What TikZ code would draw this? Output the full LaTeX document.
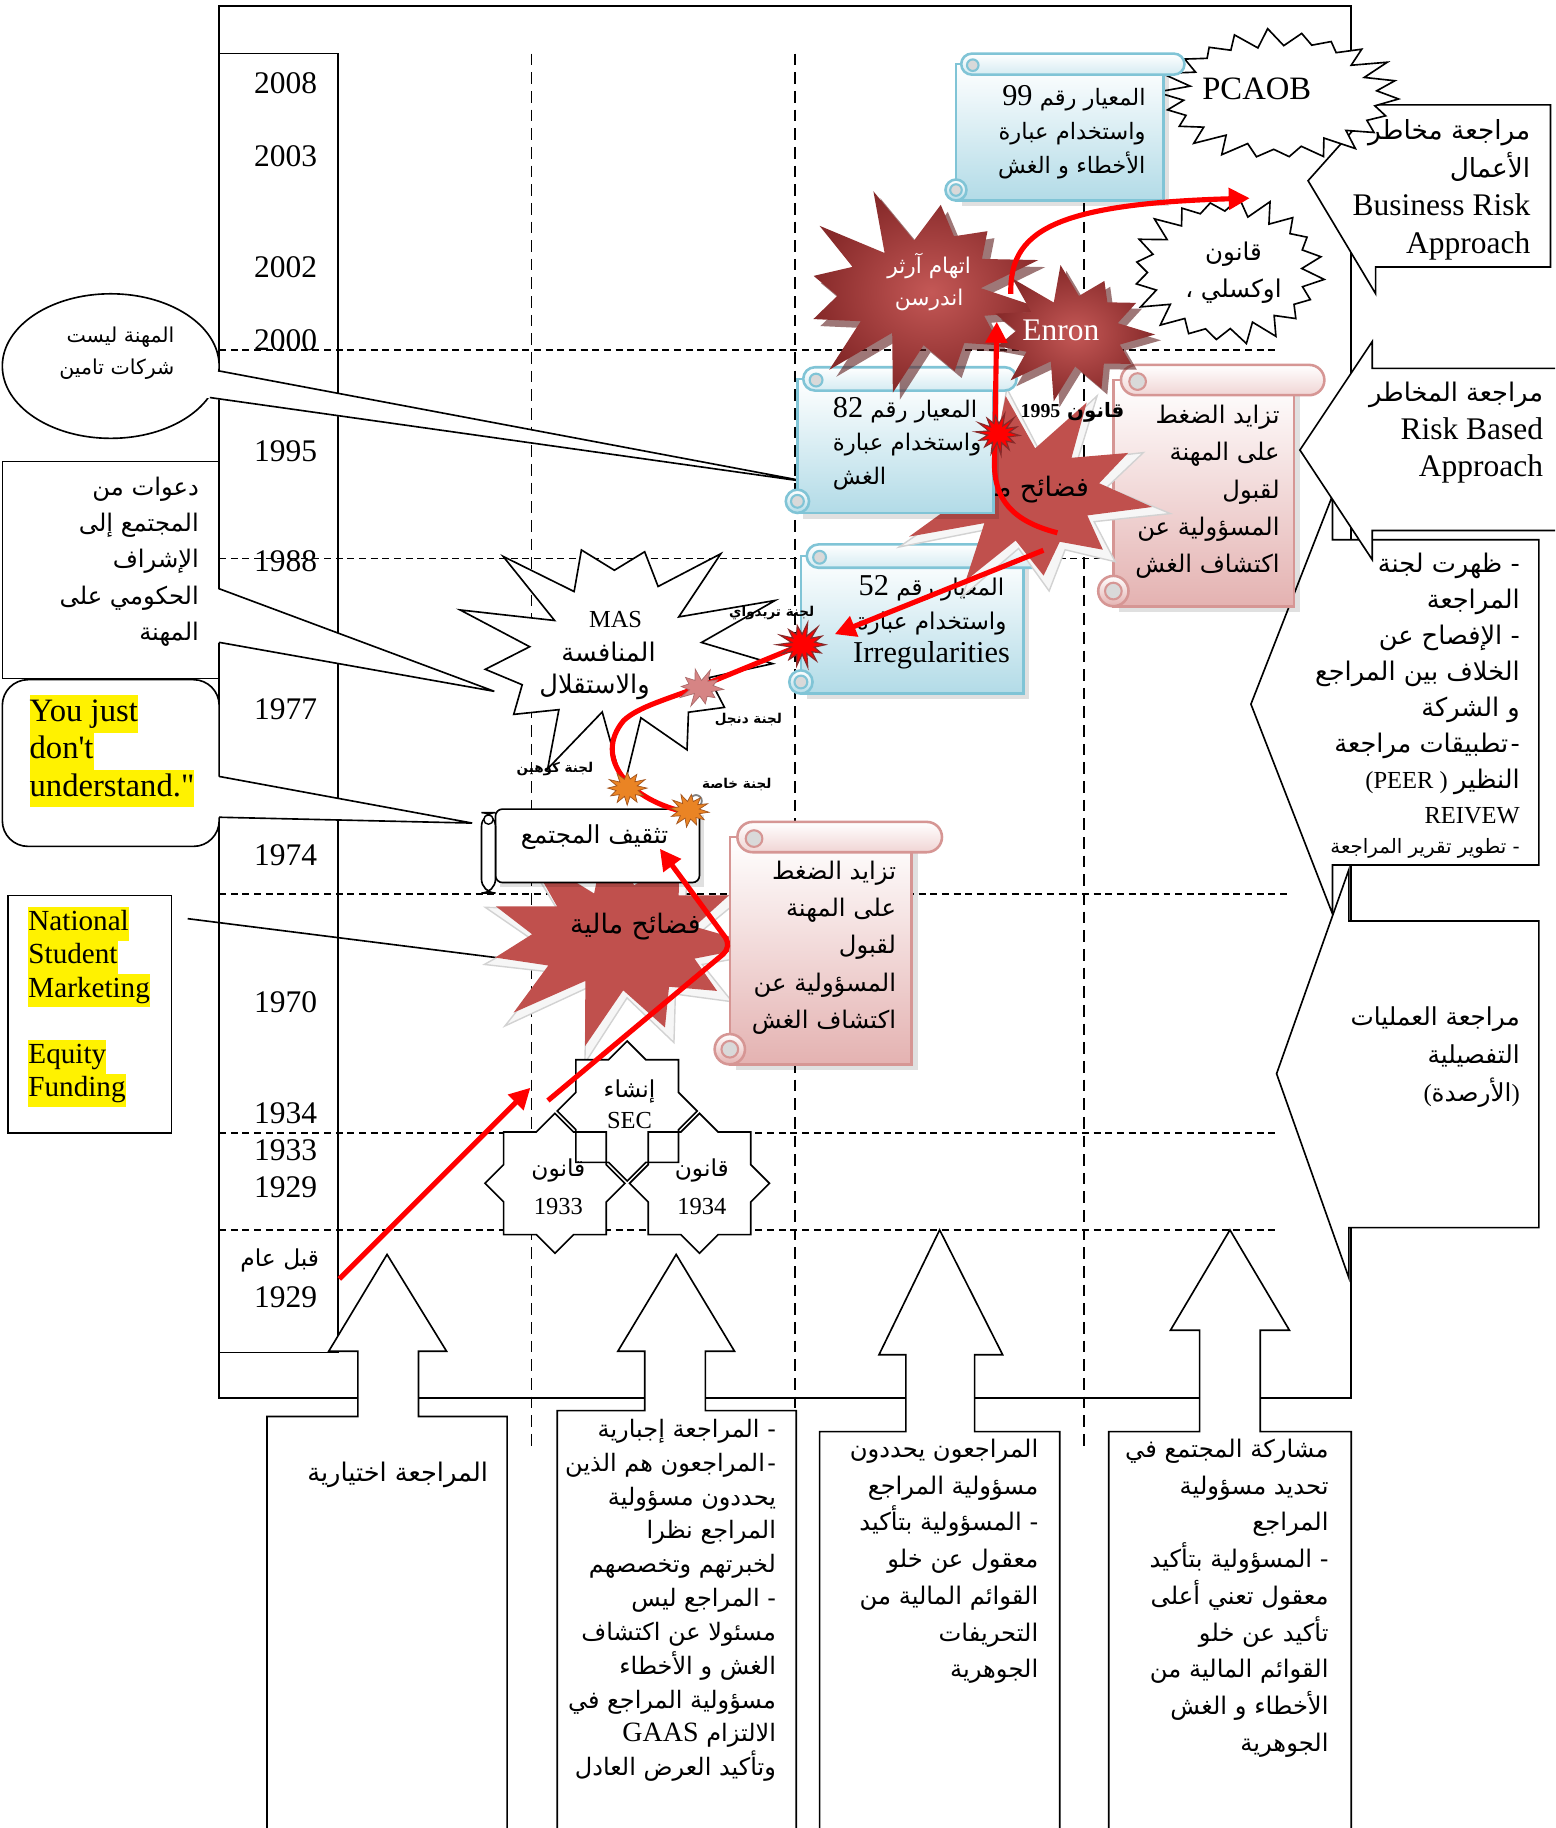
\documentclass[tikz,border=0pt]{standalone}
\usepackage{fontspec}
\setmainfont{Liberation Serif}
\newfontfamily\arabicfont[Script=Arabic]{DejaVu Sans}
\newfontfamily\latfont{Liberation Serif}
\TeXXeTstate=1
\usetikzlibrary{arrows.meta}
\setlength{\fboxsep}{0pt}
\definecolor{blueedge}{RGB}{128,196,214}
\definecolor{bluefill}{RGB}{178,219,231}
\definecolor{pinkedge}{RGB}{214,150,148}
\definecolor{pinkfill}{RGB}{228,178,177}
\definecolor{burstred}{RGB}{192,80,77}
\definecolor{darkburst}{RGB}{135,42,42}
\definecolor{lightburst}{RGB}{196,88,86}
\definecolor{orangemk}{RGB}{232,118,40}
\definecolor{pinkmk}{RGB}{214,132,132}
\newcommand\AR[1]{{\arabicfont\beginR #1\endR}}
\newcommand\LA[1]{{\latfont #1}}
% #1 style, #2 centre, #3 last index, #4 step angle, #5 Rx, #6 Ry, #7 inner ratio, #8 jitter, #9 phase
\newcommand\burstshape[9]{%
  \path[#1,shift={#2}] plot[samples at={0,1,...,#3},variable=\bk]
   ({cos(\bk*#4+#9)*#5*(mod(\bk,2)<0.5 ? 1 : #7)*(1+#8*sin(\bk*137+#9*3))},
    {sin(\bk*#4+#9)*#6*(mod(\bk,2)<0.5 ? 1 : #7)*(1+#8*sin(\bk*137+#9*3))}) -- cycle;}
% vertical scroll: #1 x1, #2 y1, #3 x2, #4 y2, #5 r, #6 colour prefix
\newcommand\vscroll[6]{%
  \path[fill=black,opacity=0.12] (#1+5,#2+#5+5) rectangle (#3+5,#4+5);
  \path[draw=#6edge,line width=1.1pt,top color=white,bottom color=#6fill] (#1,#2+#5) rectangle (#3,#4);
  \path[draw=#6edge,line width=1.1pt,top color=white,bottom color=#6fill!55,rounded corners=#5*0.5pt] (#1+0.5*#5,#2) rectangle (#3+2*#5,#2+2*#5);
  \path[draw=#6edge,line width=0.9pt,fill=gray!30] (#1+1.6*#5,#2+1.1*#5) circle [radius=0.55*#5];
  \path[draw=#6edge,line width=1.1pt,top color=white,bottom color=#6fill,rounded corners=#5*0.5pt] (#1-#5,#4-2*#5) rectangle (#1+#5,#4);
  \path[draw=#6edge,line width=0.9pt,fill=gray!30] (#1,#4-#5) circle [radius=0.55*#5];
}
\begin{document}
\begin{tikzpicture}[x=0.5pt,y=-0.5pt,
  frame/.style={draw=black,line width=0.7pt},
  hdash/.style={draw=black,line width=0.7pt,dash pattern=on 3pt off 2pt},
  vdash/.style={draw=black,line width=0.7pt,dash pattern=on 5pt off 3pt},
  yr/.style={inner sep=0pt,font=\fontsize{13.5}{16}\selectfont},
  box/.style={draw=black,line width=0.7pt,fill=white},
  txt/.style={inner sep=0pt},
  redarrow/.style={draw=red,line width=2.2pt,-{Triangle[length=9pt,width=9pt]}},
  redline/.style={draw=red,line width=2.2pt},
  wburst/.style={draw=black,line width=0.7pt,fill=white},
  lbl/.style={inner sep=0pt,font=\fontsize{5.8}{7}\selectfont\bfseries},
]
\useasboundingbox (0,0) rectangle (1334,1568);
\fill[white] (0,0) rectangle (1334,1568);
\clip (0,0) rectangle (1334,1568);

% ---------- frame and year column
\draw[frame] (188,5) rectangle (1159,1199);
\draw[frame] (188,46) rectangle (290,1160);

\node[yr] (y08) at (245,71) {2008};
\node[yr] (y03) at (245,134) {2003};
\node[yr] (y02) at (245,229) {2002};
\node[yr] (y00) at (245,292) {2000};
\node[yr] (y95) at (245,387) {1995};
\node[yr] (y88) at (245,481) {1988};
\node[yr] (y77) at (245,608) {1977};
\node[yr] (y74) at (245,734) {1974};
\node[yr] (y70) at (245,860) {1970};
\node[yr] (y34) at (245,955) {1934};
\node[yr] (y33) at (245,987) {1933};
\node[yr] (y29) at (245,1018) {1929};
\node[txt,font=\fontsize{10}{14}\selectfont] (ybf) at (240,1081) {\AR{قبل عام}};
\node[yr] (y29b) at (245,1113) {1929};

% ---------- dashed grid
\draw[hdash] (188,300) -- (1097,300);
\draw[hdash] (188,479) -- (1100,479);
\draw[hdash] (188,767) -- (1107,767);
\draw[hdash] (188,972) -- (1095,972);
\draw[hdash] (188,1055) -- (1095,1055);
\draw[vdash] (456,46) -- (456,1240);
\draw[vdash] (682,46) -- (682,1240);
\draw[vdash] (930,46) -- (930,1240);

% ---------- bottom up-arrow callouts
\draw[box] (229,1580) -- (229,1215) -- (307,1215) -- (307,1159) -- (282,1159) -- (332,1076) -- (383,1159) -- (359,1159) -- (359,1215) -- (435,1215) -- (435,1580);
\draw[box] (478,1580) -- (478,1210) -- (553,1210) -- (553,1159) -- (530,1159) -- (580,1076) -- (630,1159) -- (605,1159) -- (605,1210) -- (683,1210) -- (683,1580);
\draw[box] (703,1580) -- (703,1228) -- (777,1228) -- (777,1162) -- (754,1162) -- (806,1055) -- (860,1162) -- (836,1162) -- (836,1228) -- (909,1228) -- (909,1580);
\draw[box] (951,1580) -- (951,1228) -- (1029,1228) -- (1029,1141) -- (1004,1141) -- (1055,1055) -- (1106,1141) -- (1081,1141) -- (1081,1228) -- (1159,1228) -- (1159,1580);

\node[txt,anchor=east,font=\fontsize{11}{14.5}\selectfont] (b1t) at (419,1265) {\AR{المراجعة اختيارية}};
\node[txt,anchor=north east,align=right,font=\fontsize{10.3}{14.5}\selectfont] (b2t) at (666,1217)
 {\AR{- المراجعة إجبارية}\\ \AR{-\kern1pt المراجعون هم الذين}\\ \AR{يحددون مسؤولية}\\ \AR{المراجع نظرا}\\ \AR{لخبرتهم وتخصصهم}\\ \AR{- المراجع ليس}\\ \AR{مسئولا عن اكتشاف}\\ \AR{الغش و الأخطاء}\\ \AR{مسؤولية المراجع في}\\ \AR{الالتزام {\latfont\fontsize{12}{14.5}\selectfont GAAS}}\\ \AR{وتأكيد العرض العادل}};
\node[txt,anchor=north east,align=right,font=\fontsize{10.4}{15.75}\selectfont] (b3t) at (891,1234)
 {\AR{المراجعون يحددون}\\ \AR{مسؤولية المراجع}\\ \AR{- المسؤولية بتأكيد}\\ \AR{معقول عن خلو}\\ \AR{القوائم المالية من}\\ \AR{التحريفات}\\ \AR{الجوهرية}};
\node[txt,anchor=north east,align=right,font=\fontsize{10.4}{15.75}\selectfont] (b4t) at (1140,1234)
 {\AR{مشاركة المجتمع في}\\ \AR{تحديد مسؤولية}\\ \AR{المراجع}\\ \AR{- المسؤولية بتأكيد}\\ \AR{معقول تعني أعلى}\\ \AR{تأكيد عن خلو}\\ \AR{القوائم المالية من}\\ \AR{الأخطاء و الغش}\\ \AR{الجوهرية}};

% ---------- left callouts
\path[fill=white] (95,314) ellipse [x radius=93,y radius=62];
\draw[line width=0.7pt] (95,314) ellipse [x radius=93,y radius=62];
\path[fill=white] (183,318) -- (697,414) -- (176,341) -- cycle;
\draw[line width=0.7pt] (187,318) -- (697,414) -- (180,341);
\node[txt,anchor=east,align=right,font=\fontsize{8.8}{13.5}\selectfont] (Et) at (150,303) {\AR{المهنة ليست}\\ \AR{شركات تامين}};

\draw[box] (2,396) rectangle (188,582);
\path[fill=white] (186,505) -- (424,593) -- (186,551) -- cycle;
\draw[line width=0.7pt] (188,505) -- (424,593) -- (188,551);
\node[txt,anchor=north east,align=right,font=\fontsize{10.4}{15.5}\selectfont] (Ft) at (171,409)
 {\AR{دعوات من}\\ \AR{المجتمع إلى}\\ \AR{الإشراف}\\ \AR{الحكومي على}\\ \AR{المهنة}};

\draw[box,rounded corners=11pt] (2,583) rectangle (188,726);
\path[fill=white] (186,666) -- (405,706) -- (186,701) -- cycle;
\draw[line width=0.7pt] (188,666) -- (405,706) -- (188,701);
\node[txt,anchor=north west,align=left,font=\fontsize{14}{16}\selectfont] (Gt) at (25,596)
 {\colorbox{yellow}{\strut You just}\\ \colorbox{yellow}{\strut don\textquotesingle t}\\ \colorbox{yellow}{\strut understand.\textquotedbl}};

\draw[box] (7,768) rectangle (147,972);
\draw[line width=0.7pt] (161,788) -- (486,829);
\node[txt,anchor=north west,align=left,font=\fontsize{12.5}{14.25}\selectfont] (Ht) at (24,778)
 {\colorbox{yellow}{\strut National}\\ \colorbox{yellow}{\strut Student}\\ \colorbox{yellow}{\strut Marketing}\\ \strut\\ \colorbox{yellow}{\strut Equity}\\ \colorbox{yellow}{\strut Funding}};

% ---------- right callouts
\draw[box] (1180,90) -- (1330,90) -- (1330,229) -- (1180,229) -- (1180,252) -- (1122,155) -- cycle;
\node[txt,anchor=north east,align=right,font=\fontsize{11.3}{16.25}\selectfont] (At) at (1313,102)
 {\AR{مراجعة مخاطر}\\ \AR{الأعمال}\\ {\fontsize{13.5}{16.25}\selectfont Business Risk}\\ {\fontsize{13.5}{16.25}\selectfont Approach}};
\draw[box] (1143,425) -- (1143,463) -- (1320,463) -- (1320,742) -- (1143,742) -- (1143,784) -- (1073,604) -- cycle;
\draw[box] (1177,293) -- (1177,316) -- (1345,316) -- (1345,455) -- (1177,455) -- (1177,480) -- (1115,386) -- cycle;
\node[txt,anchor=north east,align=right,font=\fontsize{11}{16.25}\selectfont] (Bt) at (1324,327)
 {\AR{مراجعة المخاطر}\\ {\fontsize{13.5}{16.25}\selectfont Risk Based}\\ {\fontsize{13.5}{16.25}\selectfont Approach}};
\node[txt,anchor=north east,align=right,font=\fontsize{11}{15.4}\selectfont] (Ct) at (1304,474)
 {\AR{- ظهرت لجنة}\\ \AR{المراجعة}\\ \AR{- الإفصاح عن}\\ \AR{الخلاف بين المراجع}\\ \AR{و الشركة}\\ \AR{-\kern1pt تطبيقات مراجعة}\\ {\latfont\fontsize{10.5}{12}\selectfont (PEER )} {\arabicfont النظير}\\ {\fontsize{10.5}{12}\selectfont REIVEW}\\[-2.5pt] {\fontsize{8.5}{12}\selectfont\AR{- تطوير تقرير المراجعة}}};
\draw[box] (1157,746) -- (1157,790) -- (1320,790) -- (1320,1053) -- (1157,1053) -- (1157,1096) -- (1095,921) -- cycle;
\node[txt,anchor=north east,align=right,font=\fontsize{10.6}{16.25}\selectfont] (Dt) at (1304,863)
 {\AR{مراجعة العمليات}\\ \AR{التفصيلية}\\ {\latfont(}{\arabicfont الأرصدة}{\latfont)}};

% ---------- white bursts
\burstshape{wburst}{(530,560)}{25}{13.846}{128}{102}{0.6}{0.16}{5}
\node[txt,font=\fontsize{10.5}{12}\selectfont] (Tmas) at (528,531) {MAS};
\node[txt,font=\fontsize{11}{14}\selectfont] (Tmun) at (522,559) {\AR{المنافسة}};
\node[txt,font=\fontsize{11}{14}\selectfont] (Tist) at (510,589) {\AR{والاستقلال}};
\burstshape{wburst}{(1097,82)}{43}{8.1818}{102}{55}{0.8}{0.05}{3}
\node[txt,font=\fontsize{14}{16}\selectfont] (Nt) at (1078,76) {PCAOB};
\burstshape{wburst}{(1053,232)}{39}{9}{82}{62}{0.8}{0.05}{7}
\node[txt,align=center,font=\fontsize{10.5}{16}\selectfont] (Ot) at (1058,234) {\AR{قانون}\\ \AR{اوكسلي ،}};

% ---------- lower financial scandals burst
\burstshape{fill=gray!7,draw=gray!35,line width=0.6pt}{(533,809)}{21}{16.3636}{134}{95}{0.52}{0.12}{4}
\burstshape{fill=burstred}{(530,805)}{21}{16.3636}{120}{85}{0.55}{0.12}{4}
\node[txt,font=\fontsize{11.5}{14}\selectfont] (St) at (545,795) {\AR{فضائح مالية}};

% ---------- 8-point stars
\begin{scope}[line width=0.7pt]
\foreach \cx/\cy in {476/1015,600/1015,538/953}{
 \path[fill=white] (\cx+60,\cy) -- (\cx+44,\cy+16) -- (\cx+44,\cy+44) -- (\cx+16,\cy+44) -- (\cx,\cy+60) -- (\cx-16,\cy+44) -- (\cx-44,\cy+44) -- (\cx-44,\cy+16) -- (\cx-60,\cy) -- (\cx-44,\cy-16) -- (\cx-44,\cy-44) -- (\cx-16,\cy-44) -- (\cx,\cy-60) -- (\cx+16,\cy-44) -- (\cx+44,\cy-44) -- (\cx+44,\cy-16) -- cycle;}
\foreach \cx/\cy in {476/1015,600/1015,538/953}{
 \draw (\cx+60,\cy) -- (\cx+44,\cy+16) -- (\cx+44,\cy+44) -- (\cx+16,\cy+44) -- (\cx,\cy+60) -- (\cx-16,\cy+44) -- (\cx-44,\cy+44) -- (\cx-44,\cy+16) -- (\cx-60,\cy) -- (\cx-44,\cy-16) -- (\cx-44,\cy-44) -- (\cx-16,\cy-44) -- (\cx,\cy-60) -- (\cx+16,\cy-44) -- (\cx+44,\cy-44) -- (\cx+44,\cy-16) -- cycle;}
\end{scope}
\node[txt,align=center,font=\fontsize{10}{13.5}\selectfont] (SECt) at (540,947) {\AR{إنشاء}\\ {\latfont\fontsize{10.5}{13.5}\selectfont SEC}};
\node[txt,align=center,font=\fontsize{10}{16}\selectfont] (L33t) at (479,1018) {\AR{قانون}\\ {\latfont\fontsize{10.5}{16}\selectfont 1933}};
\node[txt,align=center,font=\fontsize{10}{16}\selectfont] (L34t) at (602,1018) {\AR{قانون}\\ {\latfont\fontsize{10.5}{16}\selectfont 1934}};

% ---------- scrolls (lower)
\vscroll{626}{705}{782}{913}{13}{pink}
\node[txt,anchor=north east,align=right,font=\fontsize{10.4}{16}\selectfont] (PLt) at (769,738)
 {\AR{تزايد الضغط}\\ \AR{على المهنة}\\ \AR{لقبول}\\ \AR{المسؤولية عن}\\ \AR{اكتشاف الغش}};
\path[fill=black,opacity=0.12] (429,699) rectangle (604,761);
\draw[line width=0.7pt,fill=white,rounded corners=3pt] (425,694) rectangle (600,757);
\draw[line width=0.7pt,fill=white,rounded corners=6pt] (413,697) rectangle (425,766);
\draw[line width=0.6pt,fill=white] (419,703) circle [radius=4];
\node[txt,font=\fontsize{10.6}{14}\selectfont] (It) at (510,718) {\AR{تثقيف المجتمع}};

% ---------- scrolls (upper)
\vscroll{955}{313}{1110}{520}{13}{pink}
\node[txt,anchor=north east,align=right,font=\fontsize{10.4}{16}\selectfont] (PUt) at (1098,347)
 {\AR{تزايد الضغط}\\ \AR{على المهنة}\\ \AR{لقبول}\\ \AR{المسؤولية عن}\\ \AR{اكتشاف الغش}};
\vscroll{687}{467}{878}{595}{10}{blue}
\node[txt,anchor=north,align=center,font=\fontsize{9.9}{14.5}\selectfont] (Mt) at (799,493)
 {\AR{المعيار رقم {\latfont\fontsize{13}{14.5}\selectfont 52}}\\ \AR{واستخدام عبارة}\\ {\latfont\fontsize{13}{14.5}\selectfont Irregularities}};

% upper financial scandals burst
\burstshape{fill=gray!7,draw=gray!35,line width=0.6pt}{(883,426)}{19}{18}{116}{88}{0.52}{0.12}{9}
\burstshape{fill=burstred}{(880,422)}{19}{18}{104}{78}{0.55}{0.12}{9}
\node[txt,font=\fontsize{11.5}{14}\selectfont] (Rt) at (878,420) {\AR{فضائح مالية}};

\vscroll{684}{315}{852}{440}{10}{blue}
\node[txt,anchor=north west,align=left,font=\fontsize{9.8}{14.5}\selectfont] (Lt) at (714,340)
 {\AR{المعيار رقم {\latfont\fontsize{13}{14.5}\selectfont 82}}\\ \AR{واستخدام عبارة}\\ \AR{الغش}};

\vscroll{820}{46}{998}{172}{9}{blue}
\node[txt,anchor=north east,align=right,font=\fontsize{9.7}{14.5}\selectfont] (Kt) at (983,73)
 {\AR{المعيار رقم {\latfont\fontsize{13}{14.5}\selectfont 99}}\\ \AR{واستخدام عبارة}\\ \AR{الأخطاء و الغش}};

% ---------- dark bursts
\burstshape{fill=darkburst!70!black,opacity=0.6}{(794,256)}{23}{15}{105}{80}{0.58}{0.15}{11}
\burstshape{inner color=lightburst,outer color=darkburst}{(788,250)}{23}{15}{105}{80}{0.58}{0.15}{11}
\node[txt,align=center,text=white,font=\fontsize{9.3}{14}\selectfont] (Pt) at (797,242) {\AR{اتهام آرثر}\\ \AR{اندرسن}};
\burstshape{fill=darkburst!70!black,opacity=0.6}{(923,290)}{21}{16.3636}{72}{54}{0.58}{0.12}{2}
\burstshape{inner color=lightburst,outer color=darkburst}{(918,285)}{21}{16.3636}{72}{54}{0.58}{0.12}{2}
\node[txt,text=white,font=\fontsize{13.5}{16}\selectfont] (Qt) at (910,283) {Enron};

% ---------- red arrows
\coordinate (a1s) at (291,1097); \coordinate (a1e) at (455,933);
\draw[redarrow] (a1s) -- (a1e);
\coordinate (a2s) at (470,944); \coordinate (a2m) at (628,812); \coordinate (a2e) at (566,728);
\draw[redarrow,rounded corners=5pt] (a2s) -- (a2m) -- (a2e);
\coordinate (a3s) at (590,697); \coordinate (mk1) at (688,553);
\draw[redline] (a3s) .. controls (540,687) and (508,650) .. (535,618) .. controls (548,606) and (572,600) .. (600,589) -- (mk1);
\coordinate (a4s) at (895,472); \coordinate (a4e) at (716,544);
\draw[redarrow] (a4s) -- (a4e);
\coordinate (a5s) at (907,457); \coordinate (a5e) at (855,276);
\draw[redarrow] (a5s) .. controls (868,447) and (853,428) .. (853,398) -- (a5e);
\coordinate (a6s) at (867,252); \coordinate (a6e) at (1072,170);
\draw[redarrow] (a6s) .. controls (866,200) and (900,175) .. (a6e);

% ---------- markers
\burstshape{fill=red,draw=darkburst,line width=0.5pt}{(688,553)}{27}{12.857}{20}{18}{0.5}{0.1}{0}
\burstshape{fill=red,draw=darkburst,line width=0.5pt}{(856,372)}{27}{12.857}{18}{17}{0.5}{0.1}{5}
\burstshape{fill=pinkmk,draw=pinkmk!80!black,line width=0.3pt}{(601,590)}{19}{18}{19}{15}{0.5}{0.15}{5}
\burstshape{fill=orangemk!90!yellow,draw=orangemk!70!black,line width=0.3pt}{(538,676)}{23}{15}{17}{14}{0.55}{0.05}{0}
\draw[gray,line width=0.8pt,fill=white] (597,687) circle [radius=5];
\burstshape{fill=orangemk!90!yellow,draw=orangemk!70!black,line width=0.3pt}{(591,695)}{23}{15}{17}{14}{0.55}{0.05}{7}

% ---------- small labels
\node[lbl] (lt) at (662,526) {\AR{لجنة تريدواي}};
\node[lbl] (ld) at (642,617) {\AR{لجنة دنجل}};
\node[lbl] (lk) at (476,660) {\AR{لجنة كوهين}};
\node[lbl] (lkh) at (632,673) {\AR{لجنة خاصة}};
\node[txt,font=\fontsize{8.5}{12}\selectfont\bfseries] (l95) at (920,354) {\AR{قانون {\latfont 1995}}};
\end{tikzpicture}
\end{document}
